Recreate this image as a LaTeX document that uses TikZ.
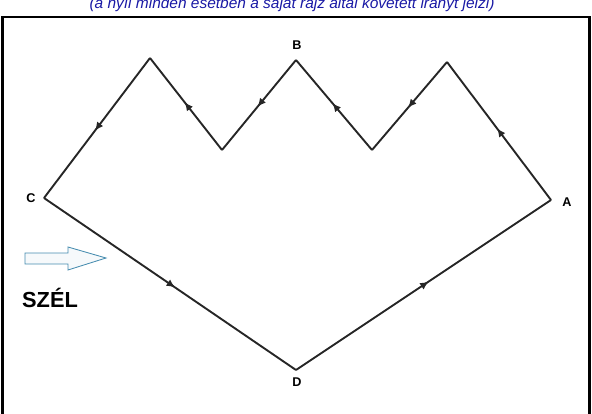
\documentclass[tikz,border=0pt]{standalone}
\usepackage{fontspec}
\setmainfont{Liberation Sans}
\usepackage{tikz}
\usetikzlibrary{arrows.meta, decorations.markings}
\usepackage{xcolor}
\definecolor{noteblue}{RGB}{25, 25, 165}
\definecolor{windblue}{RGB}{70, 140, 175}

\begin{document}
\begin{tikzpicture}[x=0.025cm, y=-0.025cm,
    route/.style={line width=1.35pt, black!85,
      postaction={decorate, decoration={markings,
        mark=at position 0.52 with {\arrow{Latex[length=6pt, width=5.5pt]}}}}},
    corner/.style={font=\fontsize{9}{10}\selectfont\bfseries}]
  \useasboundingbox (0,0) rectangle (592,414);
  \clip (0,0) rectangle (592,414);
  %--- frame and note -------------------------------------------------------
  \draw[line width=1.6pt] (2.5,414) -- (2.5,17) -- (589.5,17) -- (589.5,414);
  \node[noteblue, font=\fontsize{11}{12}\selectfont\itshape, anchor=base]
    (note) at (292,8) {(a nyíl minden esetben a saját rajz által követett irányt jelzi)};
  %--- the route ------------------------------------------------------------
  \coordinate (C) at (44,198);
  \coordinate (P1) at (150,58);
  \coordinate (V1) at (222,150);
  \coordinate (B) at (296,60);
  \coordinate (V2) at (372,150);
  \coordinate (P3) at (447,62);
  \coordinate (A) at (551,200);
  \coordinate (D) at (296,370);
  \draw[route] (C) -- (D);
  \draw[route] (D) -- (A);
  \draw[route] (A) -- (P3);
  \draw[route] (P3) -- (V2);
  \draw[route] (V2) -- (B);
  \draw[route] (B) -- (V1);
  \draw[route] (V1) -- (P1);
  \draw[route] (P1) -- (C);
  % corner names
  \node[corner] (labA) at (567,202) {A};
  \node[corner] (labB) at (297,45) {B};
  \node[corner] (labC) at (31,198) {C};
  \node[corner] (labD) at (297,382) {D};
  %--- wind -----------------------------------------------------------------
  \draw[windblue, line width=0.6pt, fill=windblue!5]
    (25,253) -- (68,253) -- (68,247) -- (106,258) -- (68,270) -- (68,264)
    -- (25,264) -- cycle;
  \node[font=\fontsize{15.5}{18}\selectfont\bfseries] (wind) at (50,298) {SZÉL};
\end{tikzpicture}
\end{document}
